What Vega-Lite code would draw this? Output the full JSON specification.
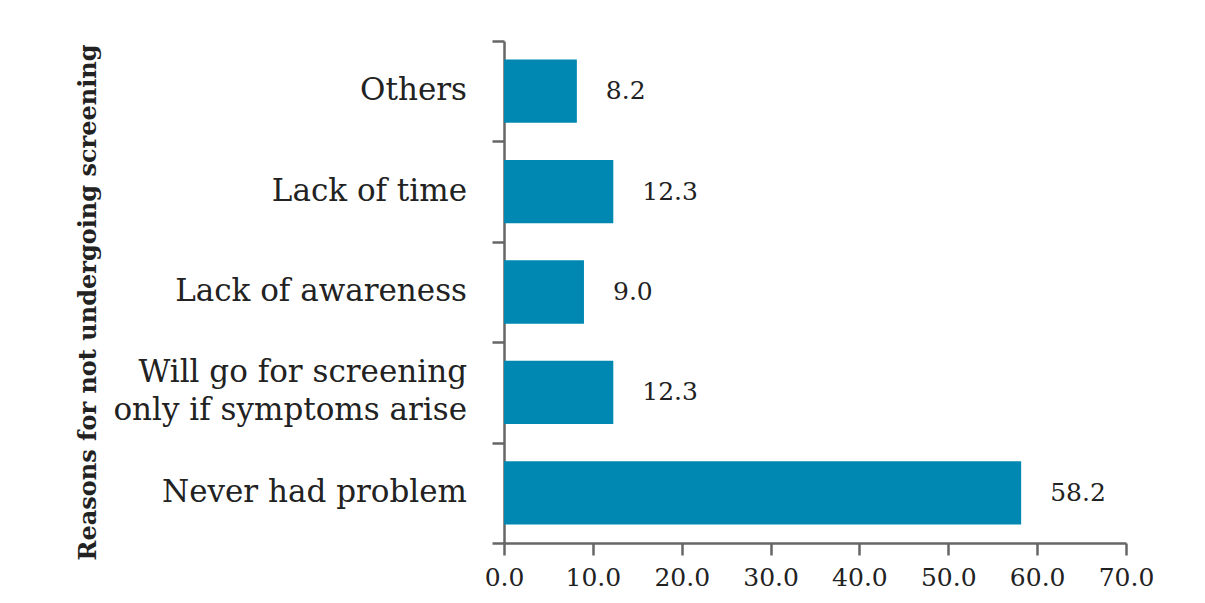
{
  "$schema": "https://vega.github.io/schema/vega-lite/v6.json",
  "autosize": {"type": "none"},
  "padding": {"left": 504, "top": 41, "right": 79, "bottom": 60},
  "width": 622,
  "height": 502,
  "background": "white",
  "data": {"values": [
    {"reason": "Others", "pct": 8.2, "lines": 1},
    {"reason": "Lack of time", "pct": 12.3, "lines": 1},
    {"reason": "Lack of awareness", "pct": 9.0, "lines": 1},
    {"reason": "Will go for screening|only if symptoms arise", "pct": 12.3, "lines": 2},
    {"reason": "Never had problem", "pct": 58.2, "lines": 1}
  ]},
  "encoding": {
    "y": {
      "field": "reason", "type": "nominal",
      "sort": ["Others", "Lack of time", "Lack of awareness", "Will go for screening|only if symptoms arise", "Never had problem"],
      "scale": {"paddingInner": 0, "paddingOuter": 0},
      "axis": {
        "title": "Reasons for not undergoing screening",
        "titleFont": "DejaVu Serif", "titleFontSize": 24, "titleFontWeight": "bold", "titleColor": "#222222",
        "titleAngle": -90, "titleAlign": "center", "titleBaseline": "middle",
        "titleX": -416, "titleY": 261,
        "labels": false,
        "tickBand": "extent", "tickSize": 12, "tickWidth": 2.5, "tickColor": "#666666",
        "domainColor": "#666666", "domainWidth": 2.5, "grid": false
      }
    },
    "x": {
      "field": "pct", "type": "quantitative",
      "scale": {"domain": [0, 70], "nice": false},
      "axis": {
        "title": null, "values": [0, 10, 20, 30, 40, 50, 60, 70], "format": ".1f",
        "labelFont": "DejaVu Serif", "labelFontSize": 25, "labelColor": "#222222", "labelPadding": 10,
        "labelFlush": false, "labelOverlap": false,
        "tickSize": 12, "tickWidth": 2.5, "tickColor": "#666666",
        "domainColor": "#666666", "domainWidth": 2.5, "grid": false
      }
    }
  },
  "layer": [
    {"mark": {"type": "bar", "color": "#0088b3", "height": {"band": 0.63}}},
    {"mark": {"type": "text", "align": "left", "baseline": "middle", "dx": 29, "font": "DejaVu Serif", "fontSize": 25, "color": "#222222"},
     "encoding": {"text": {"field": "pct", "type": "quantitative", "format": ".1f"}}},
    {"transform": [{"filter": "datum.lines == 1"}],
     "mark": {"type": "text", "align": "right", "baseline": "middle", "dx": -37, "font": "DejaVu Serif", "fontSize": 31, "color": "#222222"},
     "encoding": {"x": {"datum": 0, "type": "quantitative"}, "text": {"field": "reason", "type": "nominal"}}},
    {"transform": [{"filter": "datum.lines == 2"}],
     "mark": {"type": "text", "align": "right", "baseline": "middle", "dx": -37, "dy": -19, "lineBreak": "|", "lineHeight": 38, "font": "DejaVu Serif", "fontSize": 31, "color": "#222222"},
     "encoding": {"x": {"datum": 0, "type": "quantitative"}, "text": {"field": "reason", "type": "nominal"}}}
  ],
  "config": {"view": {"stroke": null}}
}
